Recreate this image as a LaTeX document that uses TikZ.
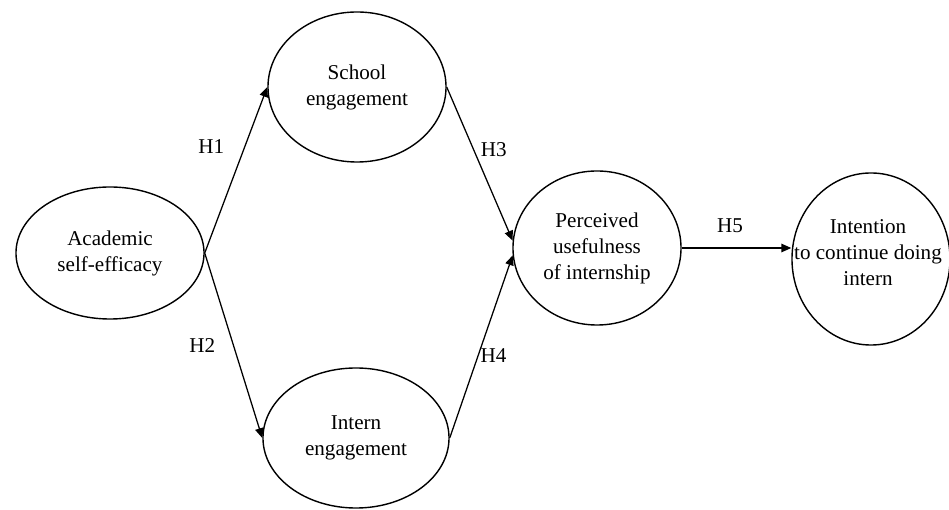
\documentclass[tikz,border=0pt]{standalone}
\usepackage{fontspec}
\setmainfont{Liberation Serif}
\usepackage{tikz}
\usetikzlibrary{shapes, arrows.meta, positioning}

\tikzset{
  construct/.style={ellipse, draw, line width=1pt, inner sep=0pt, align=center,
                    font=\fontsize{15pt}{18.5pt}\selectfont},
  hyp/.style={inner sep=0pt, font=\fontsize{15pt}{18.5pt}\selectfont}
}

\begin{document}
\begin{tikzpicture}[x=0.025cm, y=-0.025cm]
        \useasboundingbox (0,0) rectangle (949,510);
        \node[construct, minimum width=4.7cm,  minimum height=3.3cm]  (ase)    at (110,253) {Academic\\self-efficacy};
        \node[construct, minimum width=4.45cm, minimum height=3.75cm] (school) at (357,87)  {School\\engagement};
        \node[construct, minimum width=4.65cm, minimum height=3.5cm]  (intern) at (356,438) {Intern\\engagement};
        \node[construct, minimum width=4.2cm,  minimum height=3.85cm] (pu)     at (597,248) {Perceived\\usefulness\\of internship};
        \node[construct, minimum width=3.95cm, minimum height=4.3cm]  (intent) at (871,259) {};
        \node[hyp, align=center] (intent text) at (868,253) {Intention\\to continue doing\\intern};
        \path[-{Triangle[length=7pt, width=6pt]}, line width=0.9pt]
          (ase.east)    edge node[hyp, pos=0.64, left=0.5cm]   {H1} (school.west)
                        edge node[hyp, pos=0.50, left=0.44cm]  {H2} (intern.west)
          (school.east) edge node[hyp, pos=0.41, right=0.16cm] {H3} (pu.175)
          (intern.east) edge node[hyp, pos=0.45, right=0.05cm] {H4} (pu.185)
          (pu.east)     edge node[hyp, pos=0.44, above=0.37cm] {H5} (intent.west |- pu.east);
\end{tikzpicture}
\end{document}
